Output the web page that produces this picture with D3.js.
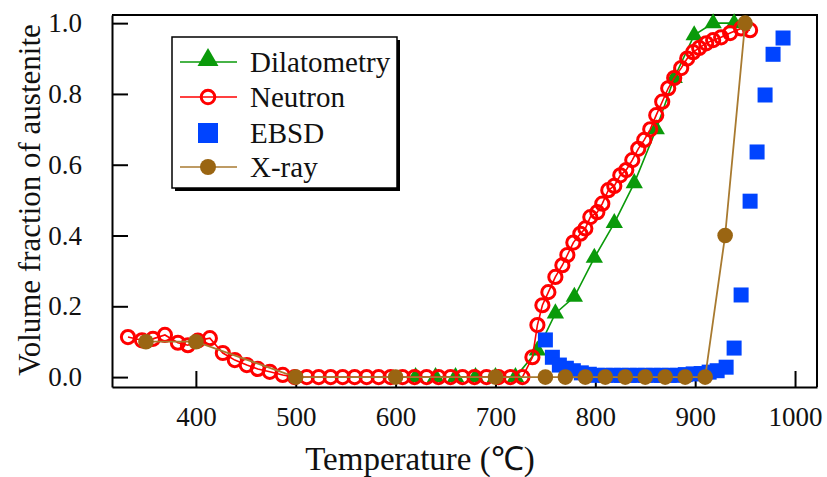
<!DOCTYPE html>
<html>
<head>
<meta charset="utf-8">
<script src="https://cdn.jsdelivr.net/npm/d3@7"></script>
<style>
  html, body { margin: 0; padding: 0; background: #fff; }
  svg text { font-family: 'Liberation Serif', 'Times New Roman', serif !important; }
</style>
</head>
<body>
<div id="chart"></div>
<script>
// Data (temperature in °C, volume fraction)
const neutronT = [332, 346, 357, 369, 382, 392, 402, 414, 427, 439, 451, 462, 474, 487, 499,
  511, 523, 535, 547, 559, 571, 583, 595, 607, 619, 631, 643, 655, 667, 679, 691, 703, 715, 727,
  737, 742, 747, 753, 760, 767, 772, 778, 785, 790, 795, 802, 807, 813, 819, 825, 831, 837, 843,
  849, 855, 861, 867, 873, 879, 886, 892, 898, 904, 911, 918, 926, 935, 946, 955];
const neutronV = [0.113, 0.104, 0.108, 0.119, 0.097, 0.09, 0.103, 0.11, 0.068, 0.048, 0.034, 0.023, 0.015, 0.006, 0,
  0, 0, 0, 0, 0, 0, 0, 0, 0, 0, 0, 0, 0, 0, 0, 0, 0, 0, 0,
  0.056, 0.147, 0.203, 0.24, 0.283, 0.316, 0.345, 0.38, 0.405, 0.42, 0.452, 0.466, 0.49, 0.528, 0.54, 0.57, 0.585, 0.613, 0.645,
  0.67, 0.7, 0.74, 0.778, 0.816, 0.845, 0.873, 0.9, 0.918, 0.93, 0.943, 0.952, 0.96, 0.972, 0.985, 0.98];

const dilatT = [620, 640, 660, 680, 700, 720, 742, 760, 779, 799, 819, 839, 861, 879, 899, 918, 939];
const dilatV = [0, 0, 0, 0, 0, 0, 0.075, 0.18, 0.227, 0.337, 0.435, 0.548, 0.7, 0.845, 0.966, 1.0, 1.0];

const ebsdT = [750, 757, 764, 771, 778, 786, 794, 802, 810, 818, 826, 834, 842, 850, 858, 866, 874, 882,
  890, 898, 906, 914, 922, 931, 939, 946, 955, 962, 970, 978, 988];
const ebsdV = [0.105, 0.056, 0.034, 0.025, 0.018, 0.012, 0.008, 0.005, 0.005, 0.005, 0.005, 0.005, 0.005, 0.005, 0.005, 0.005, 0.005, 0.005,
  0.007, 0.009, 0.01, 0.014, 0.018, 0.028, 0.082, 0.232, 0.497, 0.636, 0.797, 0.912, 0.958];

const xrayT = [350, 400, 500, 600, 700, 750, 770, 790, 810, 830, 850, 870, 890, 910, 930, 950];
const xrayV = [0.1, 0.1, 0, 0, 0, 0, 0, 0, 0, 0, 0, 0, 0, 0, 0.4, 1.0];

const xTicks = [400, 500, 600, 700, 800, 900, 1000];
const yTicks = [0, 0.2, 0.4, 0.6, 0.8, 1.0];
const legendLabels = ['Dilatometry', 'Neutron', 'EBSD', 'X-ray'];

const COLORS = { dilat: '#0a9a0a', neutron: '#ff0000', ebsd: '#0044ff', xray: '#9a6512', xrayLine: '#a87a30' };
const SERIF = "'Liberation Serif', 'Times New Roman', serif";

const width = 827;
const height = 477;
const margin = { top: 15, right: 10, bottom: 90, left: 112 };

const svg = d3.select('#chart').append('svg').attr('width', width).attr('height', height)
  .attr('font-family', SERIF);

const x = d3.scaleLinear().domain([316, 1022]).range([margin.left, width - margin.right]);
const y = d3.scaleLinear().domain([-0.028, 1.023]).range([height - margin.bottom, margin.top]);

const zip = (ts, vs) => ts.map((t, i) => ({ t, v: vs[i] }));
const line = d3.line().x((d) => x(d.t)).y((d) => y(d.v));

// axes, ticks pointing inward
const xAxis = svg.append('g').attr('transform', `translate(0,${height - margin.bottom})`)
  .call(d3.axisBottom(x).tickValues(xTicks).tickFormat(d3.format('d')).tickSize(-16).tickSizeOuter(0).tickPadding(20));
const yAxis = svg.append('g').attr('transform', `translate(${margin.left},0)`)
  .call(d3.axisLeft(y).tickValues(yTicks).tickFormat(d3.format('.1f')).tickSize(-16).tickSizeOuter(0).tickPadding(30));

[xAxis, yAxis].forEach((g) => {
  g.attr('font-family', SERIF);
  g.selectAll('.domain').attr('stroke', '#000').attr('stroke-width', 2);
  g.selectAll('.tick line').attr('stroke', '#000').attr('stroke-width', 2);
  g.selectAll('.tick text').attr('fill', '#111').attr('font-size', 27);
});

// frame top/right
svg.append('path')
  .attr('d', `M${margin.left},${margin.top}H${width - margin.right}V${height - margin.bottom}`)
  .attr('fill', 'none').attr('stroke', '#000').attr('stroke-width', 2);

// axis titles
svg.append('text').attr('x', 420).attr('y', 470).attr('text-anchor', 'middle')
  .attr('font-size', 33).attr('fill', '#111').text('Temperature (℃)');
svg.append('text').attr('transform', 'translate(40,200) rotate(-90)').attr('text-anchor', 'middle')
  .attr('font-size', 31).attr('fill', '#111').text('Volume fraction of austenite');

const plot = svg.append('g');

// Dilatometry
const dilat = zip(dilatT, dilatV);
plot.append('path').datum(dilat).attr('d', line).attr('fill', 'none')
  .attr('stroke', COLORS.dilat).attr('stroke-width', 1.6);
const tri = d3.symbol().type(d3.symbolTriangle).size(130);
plot.selectAll('.tri').data(dilat).join('path').attr('class', 'tri')
  .attr('transform', (d) => `translate(${x(d.t)},${y(d.v)})`).attr('d', tri).attr('fill', COLORS.dilat);

// Neutron
const neutron = zip(neutronT, neutronV);
plot.append('path').datum(neutron).attr('d', line).attr('fill', 'none')
  .attr('stroke', COLORS.neutron).attr('stroke-width', 1.6);
plot.selectAll('.neu').data(neutron).join('circle').attr('class', 'neu')
  .attr('cx', (d) => x(d.t)).attr('cy', (d) => y(d.v)).attr('r', 6.6)
  .attr('fill', 'none').attr('stroke', COLORS.neutron).attr('stroke-width', 3);

// EBSD
const ebsd = zip(ebsdT, ebsdV);
plot.selectAll('.ebsd').data(ebsd).join('rect').attr('class', 'ebsd')
  .attr('x', (d) => x(d.t) - 7.5).attr('y', (d) => y(d.v) - 7.5).attr('width', 15).attr('height', 15)
  .attr('fill', COLORS.ebsd);

// X-ray
const xray = zip(xrayT, xrayV);
plot.append('path').datum(xray).attr('d', line).attr('fill', 'none')
  .attr('stroke', COLORS.xrayLine).attr('stroke-width', 1.8);
plot.selectAll('.xr').data(xray).join('circle').attr('class', 'xr')
  .attr('cx', (d) => x(d.t)).attr('cy', (d) => y(d.v)).attr('r', 7.8).attr('fill', COLORS.xray);

// legend
const lg = svg.append('g');
lg.append('rect').attr('x', 175).attr('y', 40).attr('width', 225).attr('height', 151).attr('fill', '#000');
lg.append('rect').attr('x', 172).attr('y', 37).attr('width', 225).attr('height', 151)
  .attr('fill', '#fff').attr('stroke', '#000').attr('stroke-width', 1.5);

const rowY = [62, 97, 133, 167];
legendLabels.forEach((label, i) => {
  const cy = rowY[i];
  const g = lg.append('g');
  if (i !== 2) {
    g.append('line').attr('x1', 180).attr('x2', 237).attr('y1', cy).attr('y2', cy)
      .attr('stroke', [COLORS.dilat, COLORS.neutron, null, COLORS.xrayLine][i]).attr('stroke-width', 1.5);
  }
  if (i === 0) {
    g.append('path').attr('transform', `translate(208,${cy - 2})`)
      .attr('d', d3.symbol().type(d3.symbolTriangle).size(190)).attr('fill', COLORS.dilat);
  } else if (i === 1) {
    g.append('circle').attr('cx', 208).attr('cy', cy).attr('r', 6.8)
      .attr('fill', 'none').attr('stroke', COLORS.neutron).attr('stroke-width', 3);
  } else if (i === 2) {
    g.append('rect').attr('x', 198).attr('y', cy - 10).attr('width', 20).attr('height', 20).attr('fill', COLORS.ebsd);
  } else {
    g.append('circle').attr('cx', 208).attr('cy', cy).attr('r', 8).attr('fill', COLORS.xray);
  }
  g.append('text').attr('x', 250).attr('y', cy + 10).attr('font-size', 29).attr('fill', '#111').text(label);
});
</script>
</body>
</html>
